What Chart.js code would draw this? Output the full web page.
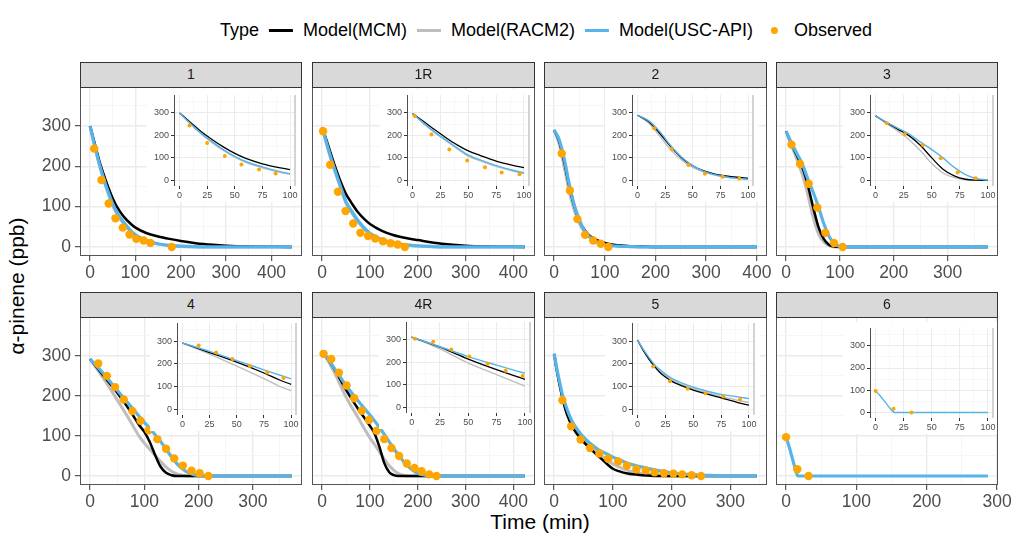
<!DOCTYPE html>
<html>
<head>
<meta charset="utf-8">
<script src="https://cdn.jsdelivr.net/npm/chart.js@4.4.1/dist/chart.umd.min.js"></script>
<style>
  body { margin: 0; background: #fff; font-family: "Liberation Sans", Arial, sans-serif; }
  #page { position: relative; width: 1015px; height: 535px; overflow: hidden; background: #fff; }
  canvas { position: absolute; }
  .strip { position: absolute; background: #D9D9D9; border: 1px solid #333; box-sizing: border-box;
           text-align: center; font-size: 14px; color: #1A1A1A; line-height: 23px; z-index: 3; }
  #legend { position: absolute; left: 546px; top: 20px; transform: translateX(-50%); white-space: nowrap;
            display: flex; align-items: center; font-size: 18px; color: #000; }
  #legend .key { display: inline-block; width: 24px; height: 3px; margin: 0 10px 0 10px; }
  #legend .dot { display: inline-block; width: 7px; height: 7px; border-radius: 50%; background: #FFA500; margin: 0 16px 0 18px; }
  .title { position: absolute; font-size: 21px; color: #000; white-space: nowrap; }
</style>
</head>
<body>
<div id="page">
  <div id="legend">
    <span>Type</span>
    <span class="key" style="background:#000"></span><span>Model(MCM)</span>
    <span class="key" style="background:#BEBEBE"></span><span>Model(RACM2)</span>
    <span class="key" style="background:#56B4E9"></span><span>Model(USC-API)</span>
    <span class="dot"></span><span>Observed</span>
  </div>
  <div class="title" style="left:540px; top:510px; transform:translateX(-50%);">Time (min)</div>
  <div class="title" style="left:17px; top:286px; transform:translate(-50%,-50%) rotate(-90deg);">α-pinene (ppb)</div>
</div>
<script>
// ---- data (min, ppb) ----
const panelNames = ['1', '1R', '2', '3', '4', '4R', '5', '6'];

const time_1 = [0, 10, 20, 30, 40, 50, 60, 75, 90, 100, 125, 150, 175, 200, 250, 300, 350, 445];
const mcm_1 = [300, 258, 215, 180, 148, 120, 98, 74, 57, 48, 34, 26, 20, 15, 7, 3, 1, 0];
const racm2_1 = [300, 250, 205, 166, 132, 103, 80, 56, 37, 27, 14, 7, 3, 1, 0, 0, 0, 0];
const usc_1 = [300, 252, 208, 170, 136, 107, 84, 60, 40, 30, 16, 8, 4, 2, 0, 0, 0, 0];
const obsTime_1 = [9, 25, 41, 56, 72, 87, 102, 118, 133, 180];
const obs_1 = [244, 166, 108, 71, 48, 31, 20, 16, 10, 0];

const time_1R = [0, 10, 20, 30, 40, 50, 60, 75, 90, 100, 125, 150, 175, 200, 250, 300, 350, 424];
const mcm_1R = [297, 262, 225, 190, 158, 131, 112, 86, 67, 57, 40, 29, 22, 17, 8, 3, 1, 0];
const racm2_1R = [297, 252, 211, 176, 141, 108, 88, 62, 42, 31, 16, 8, 4, 2, 0, 0, 0, 0];
const usc_1R = [297, 255, 215, 180, 145, 112, 92, 66, 45, 34, 18, 10, 5, 3, 0, 0, 0, 0];
const obsTime_1R = [2, 17, 33, 49, 65, 80, 96, 111, 127, 143, 158, 173];
const obs_1R = [287, 204, 137, 89, 58, 35, 27, 21, 14, 9, 6, 0];

const time_2 = [0, 10, 20, 30, 40, 50, 60, 70, 80, 90, 100, 125, 150, 175, 200, 400];
const mcm_2 = [290, 262, 210, 150, 100, 65, 42, 28, 20, 14, 10, 4, 2, 1, 0, 0];
const racm2_2 = [290, 255, 198, 136, 90, 58, 37, 24, 16, 10, 7, 3, 1, 0, 0, 0];
const usc_2 = [290, 266, 218, 155, 103, 66, 40, 25, 15, 9, 5, 2, 1, 0, 0, 0];
const obsTime_2 = [15, 31, 46, 61, 77, 92, 107];
const obs_2 = [232, 140, 69, 30, 16, 8, 0];

const time_3 = [0, 10, 20, 30, 40, 50, 60, 70, 80, 90, 100, 110, 375];
const mcm_3 = [287, 256, 227, 198, 155, 100, 50, 20, 5, 1, 0, 0, 0];
const racm2_3 = [287, 252, 218, 180, 132, 75, 33, 12, 3, 0, 0, 0, 0];
const usc_3 = [287, 258, 232, 206, 170, 137, 100, 58, 26, 8, 1, 0, 0];
const obsTime_3 = [10, 26, 42, 58, 73, 89, 105];
const obs_3 = [254, 206, 157, 98, 35, 10, 0];

const time_4 = [0, 25, 50, 75, 90, 100, 110, 120, 130, 140, 150, 160, 170, 180, 190, 200, 210, 220, 372];
const mcm_4 = [292, 250, 208, 160, 128, 110, 85, 52, 23, 8, 2, 0, 0, 0, 0, 0, 0, 0, 0];
const racm2_4 = [292, 243, 190, 135, 100, 82, 67, 51, 36, 22, 12, 5, 2, 0, 0, 0, 0, 0, 0];
const usc_4 = [292, 255, 214, 174, 150, 134, 119, 103, 86, 67, 48, 31, 18, 9, 4, 1, 0, 0, 0];
const obsTime_4 = [15, 31, 46, 62, 78, 93, 108, 124, 140, 155, 171, 187, 202, 218];
const obs_4 = [281, 250, 222, 191, 162, 138, 114, 92, 68, 44, 26, 13, 7, 0];

const time_4R = [0, 25, 50, 75, 100, 110, 120, 130, 140, 150, 160, 170, 180, 190, 200, 210, 220, 230, 424];
const mcm_4R = [313, 268, 215, 168, 125, 105, 72, 32, 10, 2, 0, 0, 0, 0, 0, 0, 0, 0, 0];
const racm2_4R = [313, 260, 197, 146, 95, 78, 60, 42, 26, 14, 6, 2, 0, 0, 0, 0, 0, 0, 0];
const usc_4R = [313, 270, 226, 188, 152, 137, 121, 104, 86, 68, 52, 37, 24, 14, 7, 3, 1, 0, 0];
const obsTime_4R = [3, 19, 35, 51, 67, 83, 98, 114, 130, 145, 161, 177, 193, 208, 224, 239];
const obs_4R = [305, 292, 258, 226, 194, 163, 140, 113, 92, 70, 50, 31, 20, 12, 4, 0];

const time_5 = [0, 5, 10, 15, 20, 25, 30, 40, 50, 60, 75, 90, 100, 110, 125, 150, 175, 200, 225, 250, 275, 300, 345];
const mcm_5 = [305, 260, 222, 190, 162, 142, 125, 103, 85, 70, 50, 30, 18, 12, 6, 2, 0, 0, 0, 0, 0, 0, 0];
const racm2_5 = [305, 262, 225, 194, 168, 149, 132, 108, 90, 75, 57, 40, 30, 23, 14, 6, 2, 0, 0, 0, 0, 0, 0];
const usc_5 = [305, 265, 230, 198, 175, 155, 138, 115, 97, 83, 66, 55, 47, 41, 32, 22, 14, 8, 4, 2, 1, 0, 0];
const obsTime_5 = [14, 29, 45, 61, 77, 92, 109, 124, 140, 156, 171, 187, 203, 218, 234, 250];
const obs_5 = [189, 124, 91, 70, 56, 43, 36, 26, 17, 14, 9, 7, 6, 4, 2, 0];

const time_6 = [0, 4, 8, 12, 15, 17, 20, 100, 287];
const usc_6 = [98, 75, 50, 24, 6, 0, 0, 0, 0];
const obsTime_6 = [0, 16, 32];
const obs_6 = [97, 17, 0];

const panels = [
  { time: time_1, mcm: mcm_1, racm2: racm2_1, usc: usc_1, obsTime: obsTime_1, obs: obs_1 },
  { time: time_1R, mcm: mcm_1R, racm2: racm2_1R, usc: usc_1R, obsTime: obsTime_1R, obs: obs_1R },
  { time: time_2, mcm: mcm_2, racm2: racm2_2, usc: usc_2, obsTime: obsTime_2, obs: obs_2 },
  { time: time_3, mcm: mcm_3, racm2: racm2_3, usc: usc_3, obsTime: obsTime_3, obs: obs_3 },
  { time: time_4, mcm: mcm_4, racm2: racm2_4, usc: usc_4, obsTime: obsTime_4, obs: obs_4 },
  { time: time_4R, mcm: mcm_4R, racm2: racm2_4R, usc: usc_4R, obsTime: obsTime_4R, obs: obs_4R },
  { time: time_5, mcm: mcm_5, racm2: racm2_5, usc: usc_5, obsTime: obsTime_5, obs: obs_5 },
  { time: time_6, mcm: null, racm2: null, usc: usc_6, obsTime: obsTime_6, obs: obs_6 },
];

// ---- layout (px) ----
const colX = [[80, 302], [312, 535], [544, 767], [776, 998]];
const rows = [{ strip: 62, top: 87, bottom: 256 }, { strip: 292, top: 317, bottom: 485 }];
// inset plot areas: left, top, right, bottom
const insetBoxes = [
  [174, 95, 295, 186], [407, 95, 529, 186], [632, 95, 753, 186], [870, 95, 993, 186],
  [177, 323, 296, 415], [406, 322, 530, 413], [632, 323, 754, 415], [870, 328, 993, 418],
];
const M = 14; // spare canvas margin so scale paddings never move the plot area

Chart.defaults.font.family = '"Liberation Sans", Arial, sans-serif';
Chart.defaults.animation = false;

const page = document.getElementById('page');

const steps = (from, to, step) => {
  const out = [];
  for (let v = from; v <= to + 1e-9; v += step) out.push({ value: v });
  return out;
};

const whiteBg = {
  id: 'whiteBg',
  beforeDraw(chart) {
    const c = chart.ctx, o = chart.options.plugins.frame;
    c.save(); c.fillStyle = '#fff';
    c.fillRect(o.bgLeft, o.bgTop, chart.width - o.bgLeft, chart.height - o.bgTop);
    c.restore();
  }
};

const frame = {
  id: 'frame',
  afterDraw(chart, args, o) {
    const a = chart.chartArea, c = chart.ctx;
    c.save();
    if (o.mode === 'box') {
      c.strokeStyle = '#555'; c.lineWidth = 1;
      c.strokeRect(a.left + 0.5, a.top + 0.5, a.right - a.left - 1, a.bottom - a.top - 1);
    } else {
      c.strokeStyle = '#4D4D4D'; c.lineWidth = 1;
      c.beginPath(); c.moveTo(a.left + 0.5, a.top); c.lineTo(a.left + 0.5, a.bottom); c.stroke();
      c.strokeStyle = '#C4C4C4'; c.lineWidth = 1.5;
      c.beginPath(); c.moveTo(a.right, a.top); c.lineTo(a.right, a.bottom); c.stroke();
    }
    c.restore();
  }
};

function points(ts, vs, tLimit) {
  return ts.map((t, k) => ({ x: t, y: vs[k] })).filter(d => d.x <= tLimit);
}

function buildDatasets(p, tLimit, big) {
  const line = (vs, color, order, w) => ({
    data: points(p.time, vs, tLimit), showLine: true, borderColor: color, borderWidth: w,
    pointRadius: 0, cubicInterpolationMode: 'monotone', order
  });
  const ds = [];
  if (p.racm2) ds.push(line(p.racm2, '#BEBEBE', 3, big ? 3 : 1.4));
  if (p.mcm) ds.push(line(p.mcm, '#000000', 2, big ? 2.5 : 1.3));
  ds.push(line(p.usc, '#56B4E9', 1, big ? 3.2 : 1.4));
  ds.push({
    data: points(p.obsTime, p.obs, tLimit), showLine: false, pointRadius: big ? 4.2 : 2,
    pointBackgroundColor: '#FFA500', pointBorderWidth: 0, order: 0
  });
  return ds;
}

function axis(opts) {
  const isMajor = v => Math.abs(v % opts.major) < 1e-9;
  return {
    type: 'linear', min: opts.min, max: opts.max,
    afterBuildTicks: s => { s.ticks = steps(0, opts.tickMax, opts.minor); },
    afterFit: s => {
      if (opts.width !== undefined) s.width = opts.width;
      if (opts.height !== undefined) s.height = opts.height;
      s.paddingLeft = 0; s.paddingRight = 0; s.paddingTop = 0; s.paddingBottom = 0;
    },
    border: { display: false },
    ticks: {
      display: opts.labels, autoSkip: false, maxRotation: 0,
      color: '#4D4D4D', font: { size: opts.font }, padding: opts.pad,
      callback: v => (isMajor(v) ? String(v) : '')
    },
    grid: {
      color: c => (isMajor(c.tick.value) ? '#EBEBEB' : '#F3F3F3'),
      lineWidth: c => (isMajor(c.tick.value) ? opts.gw : opts.gw * 0.55),
      drawTicks: opts.drawTicks,
      tickLength: opts.tickLen,
      tickWidth: 1,
      tickColor: c => (isMajor(c.tick.value) ? '#333' : 'rgba(0,0,0,0)')
    }
  };
}

panels.forEach((p, i) => {
  const col = i % 4, row = Math.floor(i / 4);
  const [pl, pr] = colX[col];
  const r = rows[row];

  const strip = document.createElement('div');
  strip.className = 'strip';
  strip.style.left = pl + 'px'; strip.style.top = r.strip + 'px';
  strip.style.width = (pr - pl) + 'px'; strip.style.height = (r.top - r.strip + 1) + 'px';
  strip.textContent = panelNames[i];
  page.appendChild(strip);

  // main panel
  const yW = col === 0 ? 75 : 0, padL = col === 0 ? 0 : M, xH = 34;
  const cv = document.createElement('canvas');
  cv.width = padL + yW + (pr - pl) + M; cv.height = M + (r.bottom - r.top) + xH;
  cv.style.left = (pl - yW - padL) + 'px'; cv.style.top = (r.top - M) + 'px';
  cv.style.zIndex = 1;
  page.appendChild(cv);
  const tMax = p.time[p.time.length - 1];
  new Chart(cv, {
    type: 'scatter',
    data: { datasets: buildDatasets(p, Infinity, true) },
    options: {
      responsive: false, events: [],
      layout: { padding: { left: padL, right: M, top: M, bottom: 0 } },
      plugins: { legend: { display: false }, tooltip: { enabled: false }, frame: { mode: 'box' } },
      scales: {
        x: axis({ min: -0.05 * tMax, max: 1.05 * tMax, tickMax: tMax * 1.05, minor: 50, major: 100,
                  labels: true, font: 17.5, pad: 2, gw: 1.4, drawTicks: true, tickLen: 5, height: xH }),
        y: axis({ min: -22.5, max: 397, tickMax: 397, minor: 50, major: 100,
                  labels: col === 0, font: 17.5, pad: 4, gw: 1.4, drawTicks: col === 0, tickLen: 5, width: yW })
      }
    },
    plugins: [frame]
  });

  // inset
  const [L, T, R, B] = insetBoxes[i];
  const bgL = L - 27, bgT = T - 6, bgR = Math.min(R + 6, pr - 1), bgB = B + 16;
  const ic = document.createElement('canvas');
  ic.width = (bgR - bgL) + 2 * M; ic.height = (bgB - bgT) + M;
  ic.style.left = (bgL - M) + 'px'; ic.style.top = (bgT - M) + 'px'; ic.style.zIndex = 2;
  page.appendChild(ic);
  new Chart(ic, {
    type: 'scatter',
    data: { datasets: buildDatasets(p, 100, false) },
    options: {
      responsive: false, events: [],
      layout: { padding: { left: M, right: (bgR - R) + M, top: (T - bgT) + M, bottom: 0 } },
      plugins: {
        legend: { display: false }, tooltip: { enabled: false },
        frame: { mode: 'inset', bgLeft: M, bgTop: M }
      },
      scales: {
        x: axis({ min: -5, max: 104.5, tickMax: 104.5, minor: 12.5, major: 25,
                  labels: true, font: 9, pad: 1, gw: 1, drawTicks: true, tickLen: 3, height: bgB - B }),
        y: axis({ min: -25, max: 380, tickMax: 380, minor: 50, major: 100,
                  labels: true, font: 9, pad: 2, gw: 1, drawTicks: true, tickLen: 3, width: L - bgL })
      }
    },
    plugins: [whiteBg, frame]
  });
  ic.style.clipPath = `inset(${M}px ${M}px 0px ${M}px)`;
});
</script>
</body>
</html>
